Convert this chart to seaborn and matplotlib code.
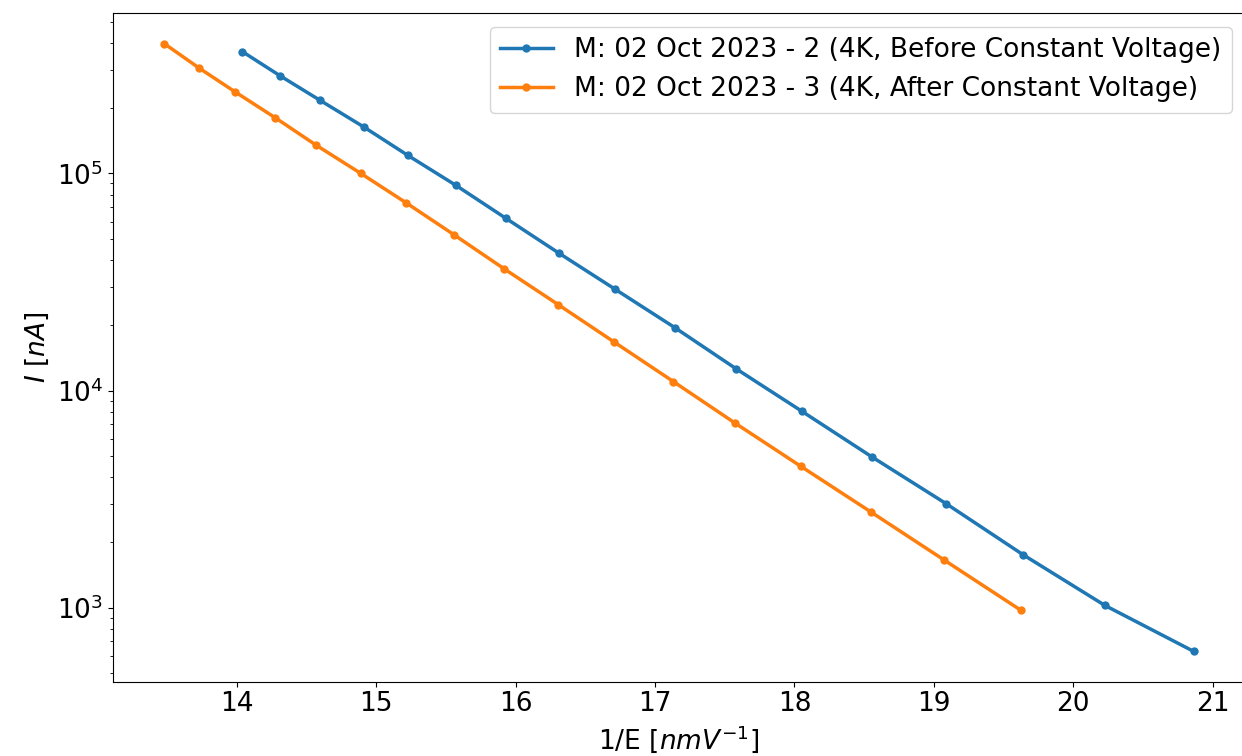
import numpy as np
import pandas as pd
import matplotlib
matplotlib.use("Agg")
import matplotlib.pyplot as plt
import seaborn as sns

# 1/E values [nm/V] and currents [nA]
inv_e_before = [14.040, 14.309, 14.598, 14.909, 15.228, 15.570, 15.931, 16.312, 16.710,
                17.142, 17.582, 18.051, 18.556, 19.090, 19.643, 20.227, 20.863]
current_before = [364e3, 282e3, 217e3, 164e3, 121e3, 88.3e3, 62.1e3, 42.9e3, 29.4e3,
                  19.5e3, 12.6e3, 8.05e3, 4.95e3, 3.01e3, 1.75e3, 1025, 630]

inv_e_after = [13.480, 13.732, 13.990, 14.273, 14.569, 14.890, 15.214, 15.560, 15.917,
               16.305, 16.703, 17.132, 17.572, 18.046, 18.549, 19.073, 19.623]
current_after = [396e3, 305e3, 237e3, 181e3, 135e3, 100e3, 73.3e3, 52.1e3, 36.4e3,
                 24.9e3, 16.8e3, 11.0e3, 7.10e3, 4.48e3, 2.76e3, 1.66e3, 975]

label_before = "M: 02 Oct 2023 - 2 (4K, Before Constant Voltage)"
label_after = "M: 02 Oct 2023 - 3 (4K, After Constant Voltage)"

df = pd.concat([
    pd.DataFrame({"inv_e": inv_e_before, "current": current_before, "run": label_before}),
    pd.DataFrame({"inv_e": inv_e_after, "current": current_after, "run": label_after}),
], ignore_index=True)

plt.rcParams["font.size"] = 19

fig = plt.figure(figsize=(12.42, 7.56), dpi=100)
ax = fig.add_axes([0.0909, 0.0983, 0.9115, 0.8841])

sns.lineplot(data=df, x="inv_e", y="current", hue="run", marker="o",
             palette=["#1f77b4", "#ff7f0e"], linewidth=2.5, markersize=6,
             markeredgewidth=0, sort=False, ax=ax)

ax.set_yscale("log")
ax.set_xlabel("1/E [$nmV^{-1}$]")
ax.set_ylabel("$I$ [$nA$]")
# the right spine falls just outside the cropped reference image
ax.spines["right"].set_visible(False)
ax.legend(loc="upper right", fontsize=19)

fig.savefig("out.png", dpi=100)
